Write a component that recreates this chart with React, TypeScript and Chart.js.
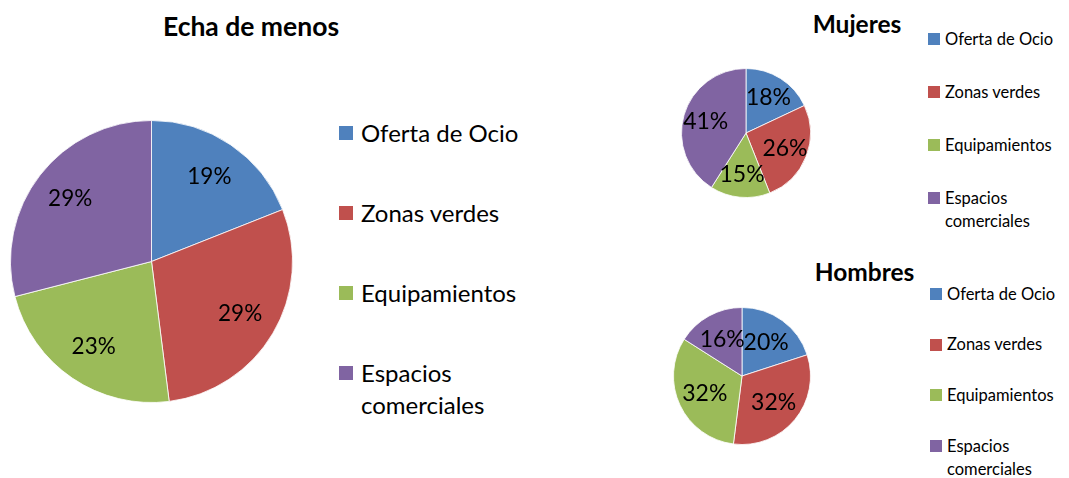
import React, { useEffect, useRef } from "react";
import { Chart, registerables } from "chart.js";
Chart.register(...registerables);

const categories = ["Oferta de Ocio", "Zonas verdes", "Equipamientos", "Espacios comerciales"];
const colors = ["#4F81BD", "#C0504D", "#9BBB59", "#8064A2"];
const totalValues = [19, 29, 23, 29];
const mujeresValues = [18, 26, 15, 41];
const hombresValues = [20, 32, 32, 16];
const titleTotal = "Echa de menos";
const titleMujeres = "Mujeres";
const titleHombres = "Hombres";

const FONT = "Lato, 'Open Sans', sans-serif";

type PieProps = { values: number[]; cx: number; cy: number; r: number; labelFrac: number; fontSize: number };

function Pie({ values, cx, cy, r, labelFrac, fontSize }: PieProps) {
  const ref = useRef<HTMLCanvasElement>(null);
  const size = Math.round(2 * r + 2);
  useEffect(() => {
    const labelPlugin = {
      id: "pctLabels",
      afterDatasetsDraw(chart: any) {
        const ctx = chart.ctx;
        const meta = chart.getDatasetMeta(0);
        const data = chart.data.datasets[0].data as number[];
        const total = data.reduce((a, b) => a + b, 0);
        ctx.save();
        ctx.font = `${fontSize}px ${FONT}`;
        ctx.fillStyle = "#000";
        ctx.textAlign = "center";
        ctx.textBaseline = "middle";
        meta.data.forEach((arc: any, i: number) => {
          const p = arc.getProps(["x", "y", "startAngle", "endAngle", "outerRadius"], true);
          const mid = (p.startAngle + p.endAngle) / 2;
          const rr = p.outerRadius * labelFrac;
          ctx.fillText(Math.round((data[i] / total) * 100) + "%", p.x + Math.cos(mid) * rr, p.y + Math.sin(mid) * rr);
        });
        ctx.restore();
      },
    };
    const chart = new Chart(ref.current as HTMLCanvasElement, {
      type: "pie",
      data: {
        labels: categories,
        datasets: [{ data: values, backgroundColor: colors, borderColor: "rgba(255,255,255,0.8)", borderWidth: 1 }],
      },
      options: {
        animation: false,
        responsive: false,
        layout: { padding: 0 },
        plugins: { legend: { display: false }, tooltip: { enabled: false }, title: { display: false } },
      },
      plugins: [labelPlugin],
    });
    return () => chart.destroy();
  }, []);
  return (
    <canvas
      ref={ref}
      width={size}
      height={size}
      style={{ position: "absolute", left: cx - size / 2, top: cy - size / 2, width: size, height: size }}
    />
  );
}

type LegendProps = {
  x: number; y0: number; spacing: number; fontSize: number; marker: number; markerGap: number; lineHeight: number; textWidth: number;
};

function Legend({ x, y0, spacing, fontSize, marker, markerGap, lineHeight, textWidth }: LegendProps) {
  return (
    <>
      {categories.map((c, i) => (
        <div
          key={c}
          style={{ position: "absolute", left: x, top: y0 + i * spacing - lineHeight / 2, fontFamily: FONT, fontSize, lineHeight: lineHeight + "px", color: "#000" }}
        >
          <span style={{ position: "absolute", left: 0, top: (lineHeight - marker) / 2, width: marker, height: marker, background: colors[i] }} />
          <div style={{ marginLeft: marker + markerGap, width: textWidth }}>{c}</div>
        </div>
      ))}
    </>
  );
}

function Title({ text, cx, cy, fontSize }: { text: string; cx: number; cy: number; fontSize: number }) {
  return (
    <div style={{ position: "absolute", left: cx - 200, width: 400, top: cy - 20, lineHeight: "40px", textAlign: "center", fontFamily: FONT, fontWeight: "bold", fontSize, color: "#000" }}>
      {text}
    </div>
  );
}

export default function App() {
  return (
    <div style={{ position: "absolute", left: 0, top: 0, width: 1069, height: 478, background: "#fff", overflow: "hidden" }}>
      <Title text={titleTotal} cx={251} cy={26} fontSize={26.5} />
      <Pie values={totalValues} cx={151.7} cy={261.3} r={140.5} labelFrac={0.73} fontSize={22.5} />
      <Legend x={339} y0={133} spacing={80} fontSize={24} marker={14} markerGap={8} lineHeight={32} textWidth={175} />

      <Title text={titleMujeres} cx={857} cy={24} fontSize={24.5} />
      <Pie values={mujeresValues} cx={745.5} cy={133} r={64} labelFrac={0.65} fontSize={23} />
      <Legend x={928} y0={39} spacing={53} fontSize={16.5} marker={12} markerGap={5} lineHeight={23} textWidth={120} />

      <Title text={titleHombres} cx={864.5} cy={272} fontSize={24.5} />
      <Pie values={hombresValues} cx={741.5} cy={375.7} r={68} labelFrac={0.6} fontSize={23} />
      <Legend x={930} y0={294} spacing={50.7} fontSize={16.5} marker={12} markerGap={5} lineHeight={23} textWidth={120} />
    </div>
  );
}
